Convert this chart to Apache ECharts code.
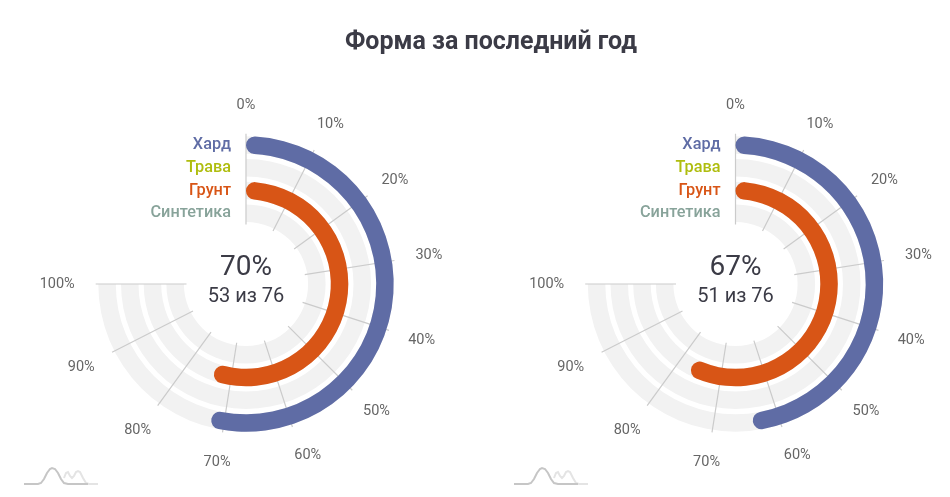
<!DOCTYPE html>
<html><head><meta charset="utf-8">
<style>html,body{margin:0;padding:0;background:#fff}#c{width:950px;height:497px}</style>
<script src="https://cdn.jsdelivr.net/npm/echarts@6/dist/echarts.min.js"></script>
</head><body><div id="c"></div>
<script>
const titleText = 'Форма за последний год';
const surfaces = ['Хард', 'Трава', 'Грунт', 'Синтетика'];
const surfaceColors = ['#5f6ca5', '#afbd0f', '#d85516', '#88a39a'];
const track = [100, 100, 100, 100];
const leftValues = [72, null, 74, null];
const rightValues = [64, null, 77, null];
const leftBig = '70%';
const leftSmall = '53 из 76';
const rightBig = '67%';
const rightSmall = '51 из 76';
const centers = [246, 735.5];
const font = 'Roboto';
const logoDark = [[24,484],[38,484],[41,483],[44,479],[47,473],[50,469],[52,468],[55,469],[58,473],[61,479],[64,483],[68,484],[88,484]];
const logoLight = [[64,478],[66,473],[68,472],[70,476],[72,478],[74,476],[76,472],[78,471],[80,472],[83,478],[86,483],[89,484],[98,484]];
// per-label padding [top,right,bottom,left] that sets how far each tick label sits from the ring
const tickPadding = {
  0: [0,0,15,0], 10: [0,0,13,0], 20: [0,0,4,9], 30: [0,0,8,15], 40: [1,0,0,13.5], 50: [9,0,0,6.5],
  60: [15,0,0,0], 70: [16,9,0,0], 80: [12,3,0,0], 90: [5,12,0,0], 100: [0,15,0,0]
};

const chart = echarts.init(document.getElementById('c'));
const tickStyle = {color: '#666', fontFamily: font, fontSize: 14.5};
const rich = {};
Object.keys(tickPadding).forEach(k => { rich['p' + k] = Object.assign({padding: tickPadding[k]}, tickStyle); });
// polar 0,1: tracks, grid lines and labels; polar 2,3: coloured bars on top
const layers = [0, 1, 2, 3];
const polar = layers.map(l => ({center: [centers[l % 2], 284], radius: [59.5, 150.3]}));
const angleAxis = layers.map(l => ({
  polarIndex: l, type: 'value', min: 0, max: 100, interval: 10,
  startAngle: 90, endAngle: -180, clockwise: true, z: 2,
  axisLine: {show: false}, axisTick: {show: false},
  splitLine: {show: l < 2, lineStyle: {color: '#cbcbcb', width: 1.2}},
  axisLabel: {show: l < 2, margin: 6, formatter: v => '{p' + v + '|' + v + '%}', rich, color: '#666', fontFamily: font, fontSize: 14.5}
}));
const radiusAxis = layers.map(l => ({
  polarIndex: l, type: 'category', data: surfaces, inverse: true, z: 4,
  axisLine: {show: false}, axisTick: {show: false}, splitLine: {show: false},
  axisLabel: {show: l < 2, interval: 0, margin: 15, padding: [2, 0, 0, 0], fontFamily: font, fontSize: 16.3, fontWeight: 500,
    color: v => surfaceColors[surfaces.indexOf(v)]}
}));
const series = [];
[leftValues, rightValues].forEach((vals, i) => {
  series.push({type: 'bar', coordinateSystem: 'polar', polarIndex: i, data: track, barWidth: 17.5, z: 1,
    silent: true, animation: false, itemStyle: {color: '#f2f2f2'}});
  series.push({type: 'bar', coordinateSystem: 'polar', polarIndex: i + 2, barWidth: 17.5, z: 3, animation: false,
    data: vals.map((v, k) => ({value: v, itemStyle: {color: surfaceColors[k], borderRadius: 8.7}}))});
});
const texts = [[leftBig, leftSmall], [rightBig, rightSmall]];
const graphic = [];
centers.forEach((x, i) => {
  graphic.push({type: 'text', x: x, y: 268, style: {text: texts[i][0], fill: '#3b3b46', font: '400 28px Roboto', textAlign: 'center', textVerticalAlign: 'middle'}});
  graphic.push({type: 'text', x: x, y: 297, style: {text: texts[i][1], fill: '#3b3b46', font: '400 20px Roboto', textAlign: 'center', textVerticalAlign: 'middle'}});
  const ox = i * 490;
  graphic.push({type: 'polyline', x: ox, y: 0, shape: {points: logoLight, smooth: 0}, style: {fill: 'none', stroke: '#e4e4e4', lineWidth: 2}});
  graphic.push({type: 'polyline', x: ox, y: 0, shape: {points: logoDark, smooth: 0}, style: {fill: 'none', stroke: '#c6c6c6', lineWidth: 2}});
});
chart.setOption({
  animation: false,
  title: {text: titleText, left: 486, top: 25, textAlign: 'center',
    textStyle: {fontFamily: font, fontSize: 25, fontWeight: 700, color: '#3b3b46'}},
  polar, angleAxis, radiusAxis, series, graphic
});
</script></body></html>
